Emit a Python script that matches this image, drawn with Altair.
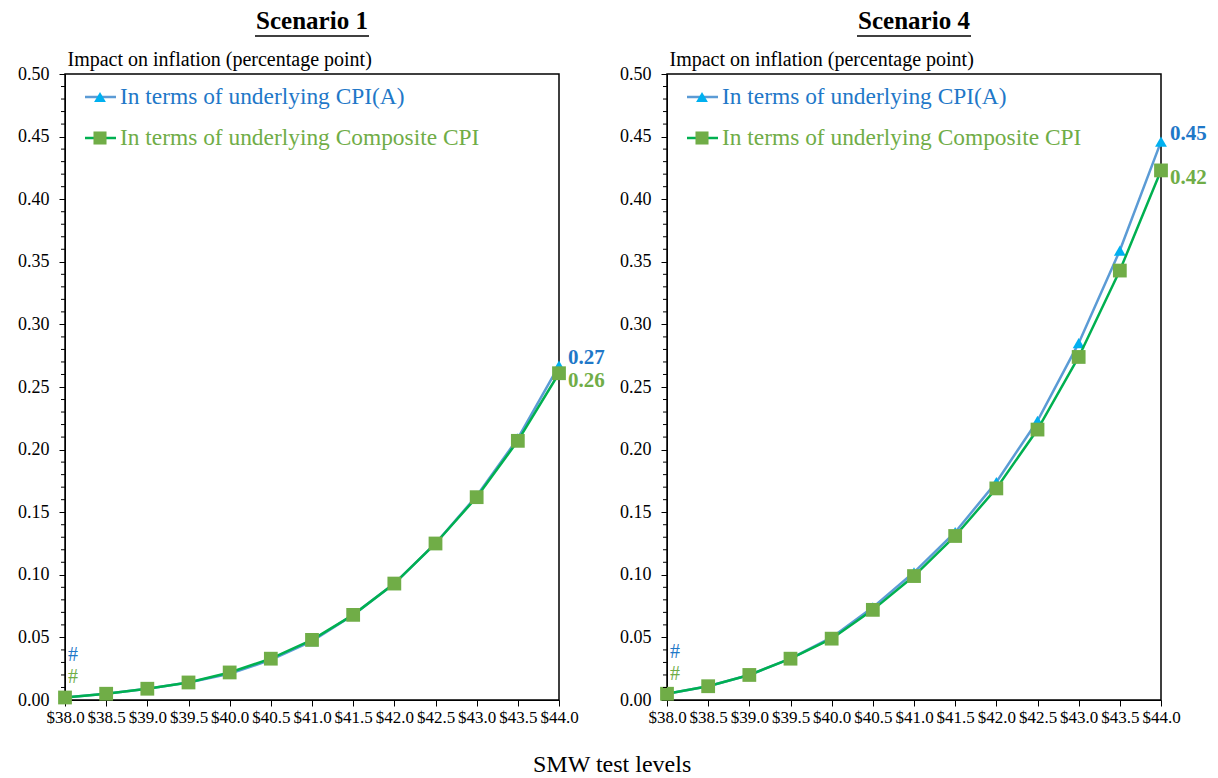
import altair as alt
import pandas as pd

levels = [38.0, 38.5, 39.0, 39.5, 40.0, 40.5, 41.0, 41.5, 42.0, 42.5, 43.0, 43.5, 44.0]

s1_cpia = [0.002, 0.005, 0.009, 0.014, 0.021, 0.032, 0.047, 0.068, 0.093, 0.125, 0.163, 0.209, 0.267]
s1_comp = [0.002, 0.005, 0.009, 0.014, 0.022, 0.033, 0.048, 0.068, 0.093, 0.125, 0.162, 0.207, 0.261]

s4_cpia = [0.005, 0.011, 0.020, 0.033, 0.050, 0.074, 0.102, 0.134, 0.174, 0.223, 0.285, 0.359, 0.446]
s4_comp = [0.005, 0.011, 0.020, 0.033, 0.049, 0.072, 0.099, 0.131, 0.169, 0.216, 0.274, 0.343, 0.423]

series_names = ["In terms of underlying CPI(A)", "In terms of underlying Composite CPI"]
end_labels_s1 = ["0.27", "0.26"]
end_labels_s4 = ["0.45", "0.42"]

y_major = [round(i * 0.05, 2) for i in range(11)]
y_minor = [round(i * 0.01, 2) for i in range(51) if i % 5 != 0]

FONT = "Liberation Serif"
BLUE_LINE = "#5B9BD5"
BLUE_MARK = "#00B0F0"
BLUE_TEXT = "#1F78C8"
GREEN_LINE = "#00B050"
GREEN_MARK = "#70AD47"
GREEN_TEXT = "#70AD47"

W, H = 494, 626

x_scale = alt.Scale(domain=[38, 44], nice=False, zero=False)
y_scale = alt.Scale(domain=[0, 0.5], nice=False)


def panel(title, cpia, comp, labels):
    df_a = pd.DataFrame({"level": levels, "value": cpia})
    df_c = pd.DataFrame({"level": levels, "value": comp})

    x_enc = alt.X("level:Q", scale=x_scale, title=None,
                  axis=alt.Axis(values=levels, labelExpr="'$' + format(datum.value, '.1f')",
                                labelFont=FONT, labelFontSize=17, labelColor="black",
                                tickColor="black", tickSize=6, domainColor="black",
                                labelOverlap=False, labelFlush=False, grid=False,
                                labelPadding=3))
    y_enc = alt.Y("value:Q", scale=y_scale,
                  title="Impact on inflation (percentage point)",
                  axis=alt.Axis(values=y_major, format=".2f",
                                labelFont=FONT, labelFontSize=18, labelColor="black",
                                labelOverlap=False, labelFlush=False,
                                tickColor="black", tickSize=6,
                                domainColor="black", grid=False, labelPadding=10,
                                titleAngle=0, titleAlign="left", titleBaseline="alphabetic",
                                titleX=2, titleY=-9, titleFont=FONT, titleFontSize=20,
                                titleFontWeight="normal", titleColor="black"))

    a_line = alt.Chart(df_a).mark_line(color=BLUE_LINE, strokeWidth=2.5).encode(x=x_enc, y=y_enc)
    a_pts = alt.Chart(df_a).mark_point(shape="triangle-up", filled=True, color=BLUE_MARK,
                                        size=140, opacity=1).encode(x="level:Q", y="value:Q")
    c_line = alt.Chart(df_c).mark_line(color=GREEN_LINE, strokeWidth=2.5).encode(x="level:Q", y="value:Q")
    c_pts = alt.Chart(df_c).mark_point(shape="square", filled=True, color=GREEN_MARK,
                                        size=190, opacity=1).encode(x="level:Q", y="value:Q")

    minor = alt.Chart(pd.DataFrame({"value": y_minor})).mark_rule(color="black", strokeWidth=1).encode(
        y="value:Q", x=alt.value(-4), x2=alt.value(0))

    a_end = alt.Chart(df_a.tail(1).assign(lab=labels[0])).mark_text(
        align="left", baseline="middle", dx=9, dy=-8, font=FONT, fontSize=21,
        fontWeight="bold", color=BLUE_TEXT).encode(x="level:Q", y="value:Q", text="lab:N")
    c_end = alt.Chart(df_c.tail(1).assign(lab=labels[1])).mark_text(
        align="left", baseline="middle", dx=9, dy=8, font=FONT, fontSize=21,
        fontWeight="bold", color=GREEN_TEXT).encode(x="level:Q", y="value:Q", text="lab:N")

    a_hash = alt.Chart(df_a.head(1).assign(lab="#")).mark_text(
        align="left", baseline="middle", dx=3, dy=-42, font=FONT, fontSize=20,
        color=BLUE_TEXT).encode(x="level:Q", y="value:Q", text="lab:N")
    c_hash = alt.Chart(df_c.head(1).assign(lab="#")).mark_text(
        align="left", baseline="middle", dx=3, dy=-20, font=FONT, fontSize=20,
        color=GREEN_TEXT).encode(x="level:Q", y="value:Q", text="lab:N")

    # panel title with underline
    ttl = alt.Chart(pd.DataFrame({"t": [title]})).mark_text(
        font=FONT, fontSize=25, fontWeight="bold", color="black", baseline="middle"
    ).encode(x=alt.value(W / 2), y=alt.value(-53), text="t:N")
    uline = alt.Chart(pd.DataFrame({"t": [title]})).mark_rule(color="black", strokeWidth=1.5).encode(
        x=alt.value(W / 2 - 57), x2=alt.value(W / 2 + 57), y=alt.value(-38))

    # legend
    leg = pd.DataFrame({"name": series_names, "row": [0, 1]})
    leg_line_a = alt.Chart(leg.head(1)).mark_rule(color=BLUE_LINE, strokeWidth=2.5).encode(
        x=alt.value(20), x2=alt.value(51), y=alt.value(23))
    leg_pt_a = alt.Chart(leg.head(1)).mark_point(shape="triangle-up", filled=True, color=BLUE_MARK,
                                                 size=140, opacity=1).encode(x=alt.value(35), y=alt.value(23))
    leg_txt_a = alt.Chart(leg.head(1)).mark_text(align="left", baseline="middle", font=FONT, fontSize=23.4,
                                                 color=BLUE_TEXT).encode(x=alt.value(55), y=alt.value(23), text="name:N")
    leg_line_c = alt.Chart(leg.tail(1)).mark_rule(color=GREEN_LINE, strokeWidth=2.5).encode(
        x=alt.value(20), x2=alt.value(51), y=alt.value(64))
    leg_pt_c = alt.Chart(leg.tail(1)).mark_point(shape="square", filled=True, color=GREEN_MARK,
                                                 size=170, opacity=1).encode(x=alt.value(35), y=alt.value(64))
    leg_txt_c = alt.Chart(leg.tail(1)).mark_text(align="left", baseline="middle", font=FONT, fontSize=23.4,
                                                 color=GREEN_TEXT).encode(x=alt.value(55), y=alt.value(64), text="name:N")

    return alt.layer(a_line, a_pts, c_line, c_pts, minor, a_end, c_end, a_hash, c_hash, ttl, uline,
                     leg_line_a, leg_pt_a, leg_txt_a, leg_line_c, leg_pt_c, leg_txt_c).properties(
        width=W, height=H)


p1 = panel("Scenario 1", s1_cpia, s1_comp, end_labels_s1)
p4 = panel("Scenario 4", s4_cpia, s4_comp, end_labels_s4)

chart = alt.hconcat(p1, p4, spacing=12).properties(
    title=alt.TitleParams("SMW test levels", orient="bottom", anchor="middle", font=FONT,
                          fontSize=24, fontWeight="normal", color="black", offset=27),
    padding={"left": 16, "top": 8, "right": 8, "bottom": 0},
    background="white",
).configure_view(stroke="black", strokeWidth=1.5)

chart.save("out.html", embed_options={"renderer": "svg", "actions": False})
